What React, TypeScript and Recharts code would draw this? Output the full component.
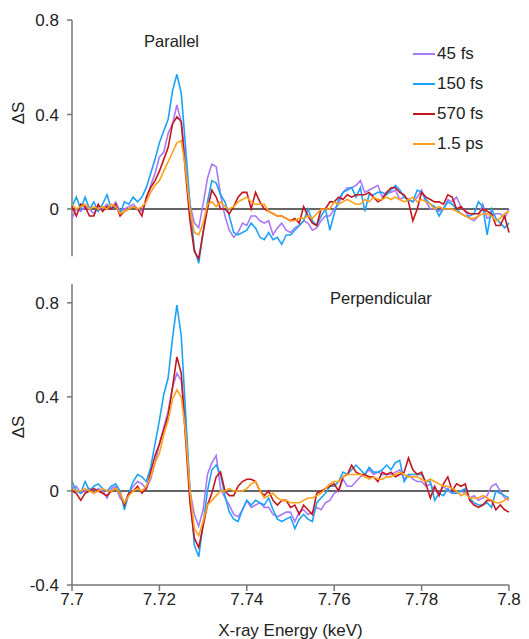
import { LineChart, Line, XAxis, YAxis, ReferenceLine, Legend } from "recharts";

// energy grid (keV), 1 eV steps
const energy = Array.from({ length: 101 }, (_, i) => Number((7.7 + i * 0.001).toFixed(3)));

const xTicks = [7.7, 7.72, 7.74, 7.76, 7.78, 7.8];
const topTicks = [0, 0.4, 0.8];
const bottomTicks = [-0.4, 0, 0.4, 0.8];

// Parallel
const par45 = [
  -0.04, 0.0, -0.01, 0.01, 0.0, -0.02, 0.01, 0.0, 0.02, 0.0,
  0.03, -0.01, 0.0, 0.01, 0.02, 0.0, -0.01, 0.04, 0.1, 0.15,
  0.22, 0.24, 0.32, 0.36, 0.44, 0.37, 0.2, 0.02, -0.06, -0.08,
  0.02, 0.13, 0.19, 0.18, 0.06, -0.03, -0.09, -0.12, -0.1, -0.06,
  -0.07, -0.03, -0.03, -0.05, -0.06, -0.05, -0.11, -0.08, -0.06, -0.09,
  -0.1, -0.08, -0.07, -0.05, -0.06, -0.09, -0.08, -0.05, -0.03, -0.03,
  0.0, 0.02, 0.07, 0.09, 0.09, 0.1, 0.12, 0.07, 0.08, 0.09,
  0.1, 0.05, 0.07, 0.07, 0.08, 0.04, 0.05, 0.04, 0.03, 0.05,
  0.08, 0.03, 0.0, 0.0, -0.01, 0.0, 0.04, 0.03, 0.05, 0.01,
  -0.01, -0.04, -0.05, -0.03, 0.02, -0.04, -0.03, -0.02, -0.02, -0.04, 0.0,
];
const par150 = [
  0.01, 0.05, 0.0, 0.05, 0.0, 0.03, -0.01, 0.02, 0.06, 0.0,
  0.01, -0.02, 0.03, 0.02, 0.05, 0.03, 0.05, 0.09, 0.15, 0.21,
  0.28, 0.33, 0.38, 0.5, 0.57, 0.49, 0.26, 0.02, -0.17, -0.23,
  -0.1, 0.03, 0.12, 0.11, 0.06, 0.03, -0.03, -0.1, -0.11, -0.1,
  -0.09, -0.06, -0.08, -0.12, -0.13, -0.1, -0.13, -0.12, -0.15, -0.11,
  -0.11, -0.09, -0.07, -0.05, 0.0, -0.05, -0.07, -0.03, 0.0, -0.09,
  -0.02, 0.04, 0.07, 0.08, 0.09, 0.05, 0.09, -0.01, 0.06, 0.06,
  0.07, 0.07, 0.06, 0.08, 0.1, 0.08, 0.05, 0.04, 0.03, 0.08,
  0.07, 0.04, 0.02, 0.01, -0.03, 0.0, 0.03, 0.02, 0.0, -0.02,
  -0.03, -0.03, -0.02, 0.03, 0.01, -0.11, 0.0, -0.04, -0.06, -0.08, -0.06,
];
const par570 = [
  0.01, -0.03, 0.02, 0.01, -0.03, -0.03, 0.02, -0.01, 0.01, 0.0,
  0.02, -0.03, -0.01, 0.0, 0.01, 0.0, -0.03, 0.05, 0.09, 0.12,
  0.16, 0.21, 0.26, 0.36, 0.39, 0.37, 0.15, -0.05, -0.18, -0.21,
  -0.1, 0.0, 0.08, 0.05, 0.0, 0.0, -0.02, 0.01, 0.05, 0.07,
  0.07, 0.0, 0.07, 0.03, 0.0, -0.01, -0.02, -0.03, -0.03, -0.04,
  -0.05, -0.04, -0.06, 0.01, -0.03, -0.06, -0.07, 0.0, 0.0, 0.03,
  0.03, 0.05, 0.04, 0.06, 0.05, 0.06, 0.06, 0.06, 0.07, 0.05,
  0.03, 0.04, 0.07, 0.09, 0.09, 0.07, 0.06, 0.03, -0.05, 0.0,
  0.07, 0.05, 0.04, 0.03, 0.03, 0.02, 0.06, 0.05, 0.0, 0.01,
  -0.01, -0.02, -0.02, -0.02, 0.0, -0.01, -0.02, -0.07, -0.07, -0.03, -0.1,
];
const par1500 = [
  0.02, 0.0, 0.01, 0.02, 0.0, 0.01, 0.0, 0.01, 0.0, 0.02,
  0.01, -0.02, -0.01, 0.0, 0.01, 0.0, 0.01, 0.03, 0.07, 0.1,
  0.12, 0.16, 0.2, 0.24, 0.28, 0.29, 0.17, 0.0, -0.1, -0.11,
  -0.06, 0.02, 0.03, 0.01, 0.03, 0.01, 0.0, 0.01, 0.03, 0.04,
  0.05, 0.03, 0.02, 0.02, 0.02, -0.01, -0.02, -0.03, -0.03, -0.04,
  -0.05, -0.05, -0.04, -0.04, -0.03, -0.04, -0.02, 0.0, 0.0, 0.0,
  0.03, 0.02, 0.03, 0.04, 0.03, 0.02, 0.02, 0.04, 0.03, 0.05,
  0.04, 0.04, 0.05, 0.04, 0.05, 0.04, 0.03, 0.04, 0.05, 0.03,
  0.04, 0.03, 0.02, 0.0, 0.01, 0.0, 0.0, 0.0, -0.01, -0.02,
  -0.03, -0.04, -0.04, -0.03, -0.02, -0.02, -0.03, -0.05, -0.04, -0.02, -0.01,
];

// Perpendicular
const perp45 = [
  0.01, 0.02, -0.01, 0.0, 0.01, -0.01, 0.01, 0.0, -0.03, 0.01,
  0.02, -0.03, -0.05, -0.01, 0.02, 0.04, 0.03, 0.01, 0.05, 0.12,
  0.2, 0.27, 0.34, 0.44, 0.5, 0.47, 0.3, 0.0, -0.1, -0.15,
  -0.08, 0.07, 0.12, 0.15, 0.01, -0.03, -0.06, -0.1, -0.11, -0.08,
  -0.04, -0.07, -0.06, -0.05, -0.07, -0.07, -0.1, -0.11, -0.1, -0.09,
  -0.09, -0.13, -0.09, -0.08, -0.1, -0.09, -0.07, -0.08, -0.05, -0.04,
  -0.01, 0.0, 0.05, 0.02, 0.02, 0.04, 0.06, 0.07, 0.09, 0.07,
  0.08, 0.07, 0.07, 0.07, 0.08, 0.09, 0.05, 0.07, 0.05, 0.04,
  0.04, 0.02, 0.03, 0.0, -0.01, 0.02, 0.0, -0.01, -0.01, 0.0,
  -0.01, -0.03, -0.02, -0.04, -0.03, -0.02, 0.02, 0.03, 0.0, -0.03, -0.04,
];
const perp150 = [
  0.04, 0.0, -0.01, 0.04, 0.0, 0.02, 0.03, 0.01, 0.0, 0.02,
  0.03, 0.0, -0.08, -0.01, 0.04, 0.07, 0.06, 0.04, 0.1, 0.2,
  0.3, 0.41, 0.48, 0.65, 0.79, 0.66, 0.33, 0.0, -0.23, -0.28,
  -0.14, 0.0, 0.09, 0.11, 0.07, -0.02, -0.09, -0.12, -0.13, -0.08,
  -0.04, -0.06, -0.04, -0.05, -0.06, -0.03, -0.08, -0.12, -0.13, -0.12,
  -0.11, -0.16, -0.12, -0.1, -0.12, -0.13, -0.05, -0.03, -0.01, 0.02,
  0.02, 0.04, 0.08, 0.07, 0.09, 0.11, 0.09, 0.07, 0.1, 0.08,
  0.08, 0.09, 0.11, 0.09, 0.12, 0.13, 0.04, 0.07, 0.07, 0.07,
  0.07, 0.04, 0.04, -0.04, -0.01, -0.02, 0.01, -0.01, -0.01, 0.0,
  0.01, -0.03, -0.05, -0.06, -0.06, -0.05, -0.07, 0.0, -0.01, -0.02, -0.03,
];
const perp570 = [
  0.0, -0.01, -0.04, -0.01, 0.0, 0.01, 0.0, -0.01, -0.02, 0.0,
  0.01, -0.01, -0.06, -0.01, 0.0, 0.02, -0.01, 0.01, 0.08, 0.15,
  0.2, 0.26, 0.32, 0.44, 0.57, 0.5, 0.22, -0.05, -0.2, -0.24,
  -0.15, -0.06, -0.01, 0.06, 0.08, 0.0, -0.02, -0.02, 0.02, 0.04,
  0.05, 0.05, 0.04, 0.0, -0.02, 0.0, -0.04, -0.06, -0.04, -0.04,
  -0.07, -0.06, -0.1, -0.06, -0.08, -0.1, -0.01, 0.0, 0.01, 0.02,
  0.03, 0.0, 0.06, 0.07, 0.11, 0.08, 0.07, 0.07, 0.06, 0.06,
  0.04, 0.08, 0.07, 0.08, 0.06, 0.07, 0.08, 0.14, 0.09, 0.07,
  0.08, 0.03, -0.03, 0.02, -0.02, 0.03, 0.06, 0.0, 0.03, 0.02,
  0.03, -0.04, -0.06, -0.07, -0.06, -0.04, -0.04, -0.08, -0.06, -0.08, -0.09,
];
const perp1500 = [
  0.01, 0.0, 0.0, 0.01, 0.0, -0.01, 0.0, 0.01, 0.0, 0.0,
  0.01, -0.01, -0.05, -0.02, 0.0, 0.01, 0.0, 0.02, 0.06, 0.12,
  0.16, 0.24, 0.3, 0.39, 0.43, 0.4, 0.25, 0.0, -0.16, -0.19,
  -0.13, -0.06, -0.04, -0.02, 0.0, 0.0, 0.01, 0.0, 0.0, 0.0,
  0.01, 0.03, 0.04, 0.0, -0.03, -0.02, -0.01, -0.03, -0.04, -0.04,
  -0.05, -0.05, -0.05, -0.04, -0.03, -0.03, -0.02, -0.01, 0.01, 0.03,
  0.04, 0.04, 0.06, 0.07, 0.07, 0.07, 0.07, 0.06, 0.05, 0.06,
  0.05, 0.05, 0.06, 0.06, 0.07, 0.08, 0.07, 0.06, 0.06, 0.06,
  0.05, 0.04, 0.05, 0.04, 0.03, 0.02, 0.02, 0.01, 0.0, -0.02,
  -0.01, -0.03, -0.03, -0.03, -0.02, -0.03, -0.04, -0.05, -0.05, -0.04, -0.03,
];

const series = [
  { key: "t45", name: "45 fs", color: "#a97af7" },
  { key: "t150", name: "150 fs", color: "#1ea2f7" },
  { key: "t570", name: "570 fs", color: "#c3161d" },
  { key: "t1500", name: "1.5 ps", color: "#ffa21a" },
];

const parallelData = energy.map((e, i) => ({
  e,
  t45: par45[i],
  t150: par150[i],
  t570: par570[i],
  t1500: par1500[i],
}));

const perpData = energy.map((e, i) => ({
  e,
  t45: perp45[i],
  t150: perp150[i],
  t570: perp570[i],
  t1500: perp1500[i],
}));

const axisColor = "#777";
const textColor = "#222";
const fs = 17;

const deltaS = (y: number) => () => (
  <text
    x={18}
    y={y}
    transform={`rotate(-90 18 ${y})`}
    textAnchor="middle"
    dominantBaseline="central"
    fontSize={fs}
    fill={textColor}
  >
    ΔS
  </text>
);

const renderLegend = () => (
  <div style={{ fontSize: fs, color: textColor }}>
    {series.map((s) => (
      <div key={s.key} style={{ display: "flex", alignItems: "center", height: 30 }}>
        <svg width={22} height={4}>
          <line x1={0} y1={2} x2={22} y2={2} stroke={s.color} strokeWidth={2} />
        </svg>
        <span style={{ marginLeft: 2 }}>{s.name}</span>
      </div>
    ))}
  </div>
);

function lines() {
  return series.map((s) => (
    <Line
      key={s.key}
      type="linear"
      dataKey={s.key}
      name={s.name}
      stroke={s.color}
      strokeWidth={1.6}
      dot={false}
      isAnimationActive={false}
    />
  ));
}

export default function App() {
  return (
    <div
      style={{
        position: "absolute",
        left: 0,
        top: 0,
        width: 529,
        height: 639,
        background: "#fff",
        fontFamily: "'Liberation Sans', Arial, sans-serif",
      }}
    >
      <div style={{ position: "absolute", left: 0, top: 0 }}>
        <LineChart width={529} height={270} data={parallelData} margin={{ top: 20, right: 20, bottom: 2, left: 0 }}>
          <XAxis dataKey="e" type="number" domain={[7.7, 7.8]} hide />
          <YAxis
            type="number"
            domain={[-0.25, 0.8]}
            ticks={topTicks}
            width={72}
            axisLine={false}
            tickLine={{ stroke: axisColor, strokeWidth: 1.5 }}
            tickSize={5}
            tickMargin={8}
            tick={{ fill: textColor, fontSize: fs }}
            label={deltaS(113)}
          />
          <ReferenceLine
            segment={[
              { x: 7.7, y: -0.2 },
              { x: 7.7, y: 0.8 },
            ]}
            stroke={axisColor}
            strokeWidth={1.5}
          />
          <ReferenceLine y={0} stroke="#333" strokeWidth={1.5} />
          {lines()}
          <Legend
            layout="vertical"
            align="center"
            verticalAlign="middle"
            content={renderLegend}
            wrapperStyle={{ top: 39, left: 413, width: 110 }}
          />
        </LineChart>
      </div>

      <div style={{ position: "absolute", left: 0, top: 270 }}>
        <LineChart width={529} height={369} data={perpData} margin={{ top: 14, right: 20, bottom: 0, left: 0 }}>
          <XAxis
            dataKey="e"
            type="number"
            domain={[7.7, 7.8]}
            ticks={xTicks}
            height={54}
            axisLine={{ stroke: axisColor, strokeWidth: 1.5 }}
            tickLine={{ stroke: axisColor, strokeWidth: 1.5 }}
            tickSize={6}
            tickMargin={2}
            tick={{ fill: textColor, fontSize: fs }}
            label={{ value: "X-ray Energy (keV)", position: "insideBottom", offset: 3, fill: textColor, fontSize: fs }}
          />
          <YAxis
            type="number"
            domain={[-0.4, 0.88]}
            ticks={bottomTicks}
            width={72}
            axisLine={{ stroke: axisColor, strokeWidth: 1.5 }}
            tickLine={{ stroke: axisColor, strokeWidth: 1.5 }}
            tickSize={5}
            tickMargin={8}
            tick={{ fill: textColor, fontSize: fs }}
            label={deltaS(157)}
          />
          <ReferenceLine y={0} stroke="#333" strokeWidth={1.5} />
          {lines()}
        </LineChart>
      </div>

      <div style={{ position: "absolute", left: 144, top: 32, fontSize: 16.5, color: textColor }}>Parallel</div>
      <div style={{ position: "absolute", left: 330, top: 289, fontSize: 16.5, color: textColor }}>Perpendicular</div>
    </div>
  );
}
